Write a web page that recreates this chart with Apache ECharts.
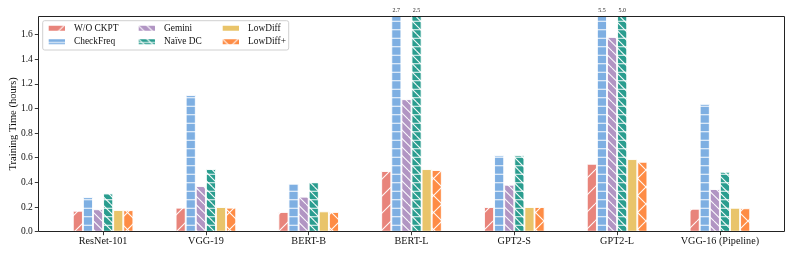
<!DOCTYPE html>
<html><head><meta charset="utf-8">
<script src="https://cdn.jsdelivr.net/npm/echarts@6/dist/echarts.min.js"></script>
<style>html,body{margin:0;padding:0;background:#fff}#c{width:793px;height:255px}</style>
</head><body><div id="c"></div>
<script>
var categories = ['ResNet-101','VGG-19','BERT-B','BERT-L','GPT2-S','GPT2-L','VGG-16 (Pipeline)'];
var seriesNames = ['W/O CKPT','CheckFreq','Gemini','Naïve DC','LowDiff','LowDiff+'];
var woCkpt   = [0.17, 0.195, 0.16, 0.492, 0.20, 0.551, 0.186];
var checkFreq= [0.28, 1.108, 0.389, 2.7, 0.619, 5.5, 1.037];
var gemini   = [0.182, 0.37, 0.284, 1.075, 0.381, 1.58, 0.346];
var naiveDC  = [0.31, 0.508, 0.403, 2.5, 0.62, 5.0, 0.486];
var lowDiff  = [0.176, 0.20, 0.165, 0.508, 0.20, 0.589, 0.194];
var lowDiffP = [0.175, 0.195, 0.16, 0.50, 0.20, 0.567, 0.19];
var yTicks = [0,0.2,0.4,0.6,0.8,1.0,1.2,1.4,1.6];
var yMax = 1.75;

var colors = ['#E8847B','#7EAFE2','#B195C3','#2A9D8F','#E9C46A','#FE8C45'];
var hatches = [['/',1],['-',2],['\\',2],['-\\',2],['',0],['/\\',1]];
var serif = '"Liberation Serif", "Times New Roman", serif';

function makePattern(bg, kinds, n){
  var P = 17;
  var cv = document.createElement('canvas');
  cv.width = P; cv.height = P;
  var ctx = cv.getContext('2d');
  ctx.fillStyle = bg; ctx.fillRect(0,0,P,P);
  if (!kinds) return cv;
  ctx.strokeStyle = 'rgba(255,255,255,0.95)';
  ctx.lineWidth = 1.1;
  for (var c = 0; c < kinds.length; c++){
    var k = kinds[c];
    ctx.beginPath();
    if (k === '-') {
      for (var i = 0; i < n; i++){ var y = (i+0.5)*P/n; ctx.moveTo(0,y); ctx.lineTo(P,y); }
    } else {
      for (var j = -n; j <= 2*n; j++){
        var x0 = j*P/n;
        if (k === '/') { ctx.moveTo(x0, P); ctx.lineTo(x0+P, 0); }
        else { ctx.moveTo(x0, 0); ctx.lineTo(x0+P, P); }
      }
    }
    ctx.stroke();
  }
  return cv;
}

var allData = [woCkpt, checkFreq, gemini, naiveDC, lowDiff, lowDiffP];
var series = seriesNames.map(function(name, i){
  var img = makePattern(colors[i], hatches[i][0], hatches[i][1]);
  return {
    name: name, type: 'bar', barWidth: 10.1, barGap: '0%', xAxisIndex: 1, yAxisIndex: 1,
    itemStyle: { color: {image: img, repeat: 'repeat'}, borderColor: '#fff', borderWidth: 0.9 },
    data: allData[i].map(function(v){
      var d = {value: v};
      if (v > yMax) d.label = {show: true};
      return d;
    }),
    label: { show: false, position: 'top', distance: 2, fontSize: 6, fontFamily: serif, color: '#222',
      formatter: function(p){ return p.value.toFixed(1); } },
    clip: true
  };
});

var legendPos = [[46.7,22.8],[46.7,36.2],[136.7,22.8],[136.7,36.2],[220.7,22.8],[220.7,36.2]];
var legends = seriesNames.map(function(name, i){
  return { data: [name], left: legendPos[i][0], top: legendPos[i][1], padding: 0, itemGap: 0,
    itemWidth: 18.3, itemHeight: 7, icon: 'rect', z: 10, selectedMode: false,
    textStyle: { fontFamily: serif, fontSize: 9.4, color: '#111', lineHeight: 11, padding: [0,0,0,3] } };
});

var chart = echarts.init(document.getElementById('c'), null, {renderer: 'canvas'});
chart.setOption({
  animation: false,
  backgroundColor: '#fff',
  grid: [
    { left: 38.3, right: 8.7, top: 16, bottom: 23.3, containLabel: false, outerBoundsMode: 'none' },
    { left: 51.7, right: 21.7, top: 16, bottom: 23.3, containLabel: false, outerBoundsMode: 'none' }
  ],
  legend: legends,
  xAxis: [
    { type: 'value', gridIndex: 0, show: false, min: 0, max: 1 },
    { type: 'category', gridIndex: 1, data: categories,
      axisLine: { show: false },
      axisTick: { show: true, alignWithLabel: true, length: 3.5, lineStyle: { color: '#222', width: 0.9 } },
      axisLabel: { interval: 0, hideOverlap: false, fontFamily: serif, fontSize: 10.2, color: '#111', margin: 4.5 } }
  ],
  yAxis: [
    { type: 'value', gridIndex: 0, min: 0, max: yMax,
      name: 'Training Time (hours)', nameLocation: 'middle', nameGap: 19.5, nameMoveOverlap: false,
      nameTextStyle: { fontFamily: serif, fontSize: 10.5, color: '#111' },
      splitLine: { show: false },
      axisLine: { show: false },
      axisTick: { show: true, length: 3.5, customValues: yTicks, lineStyle: { color: '#222', width: 0.9 } },
      axisLabel: { customValues: yTicks, fontFamily: serif, fontSize: 9.5, color: '#111', margin: 5.5,
        formatter: function(v){ return v.toFixed(1); } } },
    { type: 'value', gridIndex: 1, min: 0, max: yMax, show: false }
  ],
  graphic: [
    { type: 'rect', z: 100, silent: true, shape: { x: 38.5, y: 16.5, width: 746, height: 215 },
      style: { fill: null, stroke: '#222', lineWidth: 1 } },
    { type: 'rect', z: 5, silent: true, shape: { x: 42.7, y: 20.7, width: 246, height: 29.3, r: 2 },
      style: { fill: 'rgba(255,255,255,0.85)', stroke: '#d0d0d0', lineWidth: 1 } }
  ],
  series: series
});
</script></body></html>
